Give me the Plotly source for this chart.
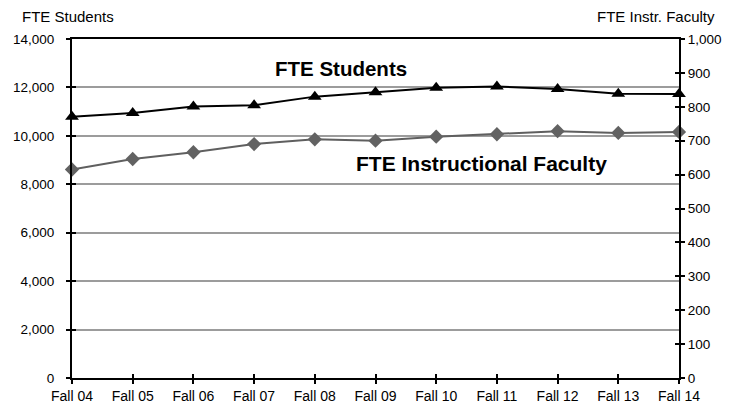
import plotly.graph_objects as go

categories = ["Fall 04", "Fall 05", "Fall 06", "Fall 07", "Fall 08", "Fall 09",
              "Fall 10", "Fall 11", "Fall 12", "Fall 13", "Fall 14"]
fte_students = [10790, 10940, 11210, 11260, 11620, 11800, 11990, 12040, 11940, 11740, 11730]
fte_faculty = [615, 646, 666, 690, 704, 700, 712, 719, 728, 723, 726]

left_ticks = [0, 2000, 4000, 6000, 8000, 10000, 12000, 14000]
right_ticks = [0, 100, 200, 300, 400, 500, 600, 700, 800, 900, 1000]

FONT = "Liberation Sans, Arial, sans-serif"
TICK = dict(ticklen=4, tickwidth=1.5, tickcolor="#000000")

fig = go.Figure()
fig.add_trace(go.Scatter(
    x=categories, y=fte_students, mode="lines+markers", name="FTE Students",
    line=dict(color="#000000", width=2),
    marker=dict(symbol="triangle-up", size=12, color="#000000"),
    xaxis="x", yaxis="y", cliponaxis=False, showlegend=False))
fig.add_trace(go.Scatter(
    x=categories, y=fte_faculty, mode="lines+markers", name="FTE Instructional Faculty",
    line=dict(color="#5f5f5f", width=2),
    marker=dict(symbol="diamond", size=11, color="#626262"),
    xaxis="x", yaxis="y2", cliponaxis=False, showlegend=False))
# helper traces so that the inside halves of the crossing tick marks get drawn
fig.add_trace(go.Scatter(x=categories, y=[None] * len(categories), mode="lines",
                         xaxis="x2", yaxis="y3", showlegend=False, hoverinfo="skip"))
fig.add_trace(go.Scatter(x=categories, y=[None] * len(categories), mode="lines",
                         xaxis="x", yaxis="y4", showlegend=False, hoverinfo="skip"))

# the page body adds an 8px margin, so the figure is sized to fit the window
fig.update_layout(
    width=723, height=400,
    margin=dict(l=64, r=52, t=31, b=30),
    paper_bgcolor="white", plot_bgcolor="white",
    font=dict(family=FONT, size=13, color="#000000"),
    xaxis=dict(type="category", range=[0, 10], showgrid=False, automargin=False,
               showline=True, linecolor="#000000", linewidth=2, mirror=True,
               ticks="outside", **TICK,
               tickfont=dict(size=14), zeroline=False),
    xaxis2=dict(type="category", range=[0, 10], overlaying="x", anchor="y",
                showgrid=False, showline=False, showticklabels=False, automargin=False,
                ticks="inside", **TICK, zeroline=False),
    yaxis=dict(range=[0, 14000], tickvals=left_ticks, tickformat=",", automargin=False,
               showgrid=True, gridcolor="#9c9c9c", gridwidth=2,
               showline=True, linecolor="#000000", linewidth=2,
               ticks="outside", **TICK, ticklabelstandoff=9,
               tickfont=dict(size=13.5), zeroline=False),
    yaxis2=dict(range=[0, 1000], tickvals=right_ticks, overlaying="y", side="right",
                showgrid=False, showline=True, linecolor="#000000", linewidth=2,
                ticks="outside", **TICK, automargin=False, ticklabelstandoff=0,
                tickfont=dict(size=13.5), zeroline=False, tickformat=","),
    yaxis3=dict(range=[0, 14000], tickvals=left_ticks, overlaying="y", side="left",
                anchor="x2", showgrid=False, showline=False, showticklabels=False,
                ticks="inside", **TICK, automargin=False, zeroline=False),
    yaxis4=dict(range=[0, 1000], tickvals=right_ticks, overlaying="y", side="right",
                showgrid=False, showline=False, showticklabels=False,
                ticks="inside", **TICK, automargin=False, zeroline=False),
    annotations=[
        dict(text="<b>FTE Students</b>", xref="paper", yref="paper", x=0.443, y=0.913,
             showarrow=False, font=dict(size=20.5, family=FONT, color="#000000"),
             xanchor="center", yanchor="middle"),
        dict(text="<b>FTE Instructional Faculty</b>", xref="paper", yref="paper",
             x=0.675, y=0.632,
             showarrow=False, font=dict(size=21, family=FONT, color="#000000"),
             xanchor="center", yanchor="middle"),
        dict(text="FTE Students", xref="paper", yref="paper", x=-0.086, y=1.0,
             yshift=23, showarrow=False, font=dict(size=15, family=FONT),
             xanchor="left", yanchor="middle"),
        dict(text="FTE Instr. Faculty", xref="paper", yref="paper", x=1.0, y=1.0,
             xshift=38, yshift=23, showarrow=False, font=dict(size=15, family=FONT),
             xanchor="right", yanchor="middle"),
    ],
)

fig.write_html("out.html")
